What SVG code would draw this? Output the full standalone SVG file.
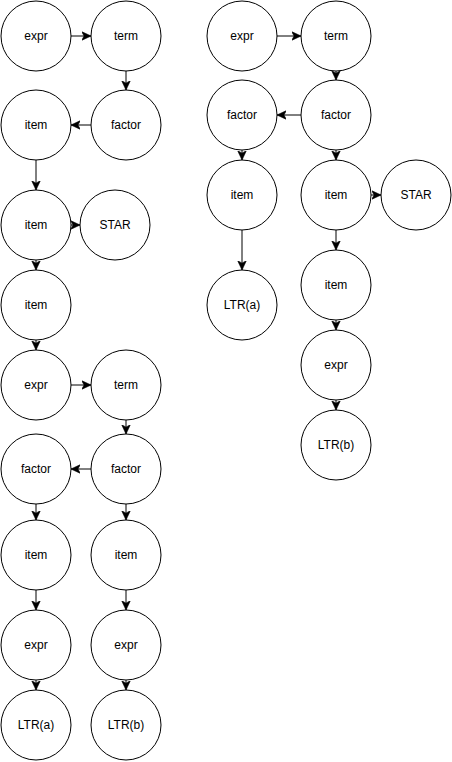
<svg xmlns="http://www.w3.org/2000/svg" width="452" height="762" viewBox="0 0 452 762">
<style>
.n circle{fill:#fff;stroke:#000;stroke-width:1}
.n text{font-family:"Liberation Sans",Arial,sans-serif;font-size:12px;fill:#000;text-anchor:middle;dominant-baseline:central}
.e line{stroke:#000;stroke-width:1;marker-end:url(#ah)}
</style>
<defs>
<marker id="ah" markerUnits="userSpaceOnUse" markerWidth="10" markerHeight="10" viewBox="0 0 8 8" refX="7.5" refY="4" orient="auto">
<path d="M0,0.5 L7.5,4 L0,7.5 L2,4 Z" fill="#000" stroke="#000" stroke-width="0.5"/>
</marker>
</defs>
<rect width="452" height="762" fill="#fff"/>
<g id="edges" class="e">
<line x1="71" y1="36" x2="91" y2="36"/>
<line x1="126" y1="71" x2="126" y2="90"/>
<line x1="91" y1="125" x2="71" y2="125"/>
<line x1="36" y1="160" x2="36" y2="190"/>
<line x1="71" y1="225" x2="80" y2="225"/>
<line x1="36" y1="260" x2="36" y2="270"/>
<line x1="36" y1="340" x2="36" y2="350"/>
<line x1="71" y1="385" x2="91" y2="385"/>
<line x1="126" y1="420" x2="126" y2="434"/>
<line x1="91" y1="469" x2="71" y2="469"/>
<line x1="36" y1="504" x2="36" y2="520"/>
<line x1="126" y1="504" x2="126" y2="520"/>
<line x1="36" y1="590" x2="36" y2="610"/>
<line x1="126" y1="590" x2="126" y2="610"/>
<line x1="36" y1="680" x2="36" y2="690"/>
<line x1="126" y1="680" x2="126" y2="690"/>
<line x1="277" y1="36" x2="301" y2="36"/>
<line x1="336" y1="71" x2="336" y2="80"/>
<line x1="301" y1="115" x2="277" y2="115"/>
<line x1="242" y1="150" x2="242" y2="160"/>
<line x1="336" y1="150" x2="336" y2="160"/>
<line x1="371" y1="195" x2="381" y2="195"/>
<line x1="242" y1="230" x2="242" y2="270"/>
<line x1="336" y1="230" x2="336" y2="250"/>
<line x1="336" y1="320" x2="336" y2="330"/>
<line x1="336" y1="400" x2="336" y2="410"/>
</g>
<g id="n1" class="n"><circle cx="36" cy="36" r="35"/><text x="36" y="36">expr</text></g>
<g id="n2" class="n"><circle cx="126" cy="36" r="35"/><text x="126" y="36">term</text></g>
<g id="n3" class="n"><circle cx="36" cy="125" r="35"/><text x="36" y="125">item</text></g>
<g id="n4" class="n"><circle cx="126" cy="125" r="35"/><text x="126" y="125">factor</text></g>
<g id="n5" class="n"><circle cx="36" cy="225" r="35"/><text x="36" y="225">item</text></g>
<g id="n6" class="n"><circle cx="115" cy="225" r="35"/><text x="115" y="225">STAR</text></g>
<g id="n7" class="n"><circle cx="36" cy="305" r="35"/><text x="36" y="305">item</text></g>
<g id="n8" class="n"><circle cx="36" cy="385" r="35"/><text x="36" y="385">expr</text></g>
<g id="n9" class="n"><circle cx="126" cy="385" r="35"/><text x="126" y="385">term</text></g>
<g id="n10" class="n"><circle cx="36" cy="469" r="35"/><text x="36" y="469">factor</text></g>
<g id="n11" class="n"><circle cx="126" cy="469" r="35"/><text x="126" y="469">factor</text></g>
<g id="n12" class="n"><circle cx="36" cy="555" r="35"/><text x="36" y="555">item</text></g>
<g id="n13" class="n"><circle cx="126" cy="555" r="35"/><text x="126" y="555">item</text></g>
<g id="n14" class="n"><circle cx="36" cy="645" r="35"/><text x="36" y="645">expr</text></g>
<g id="n15" class="n"><circle cx="126" cy="645" r="35"/><text x="126" y="645">expr</text></g>
<g id="n16" class="n"><circle cx="36" cy="725" r="35"/><text x="36" y="725">LTR(a)</text></g>
<g id="n17" class="n"><circle cx="126" cy="725" r="35"/><text x="126" y="725">LTR(b)</text></g>
<g id="n18" class="n"><circle cx="242" cy="36" r="35"/><text x="242" y="36">expr</text></g>
<g id="n19" class="n"><circle cx="336" cy="36" r="35"/><text x="336" y="36">term</text></g>
<g id="n20" class="n"><circle cx="242" cy="115" r="35"/><text x="242" y="115">factor</text></g>
<g id="n21" class="n"><circle cx="336" cy="115" r="35"/><text x="336" y="115">factor</text></g>
<g id="n22" class="n"><circle cx="242" cy="195" r="35"/><text x="242" y="195">item</text></g>
<g id="n23" class="n"><circle cx="336" cy="195" r="35"/><text x="336" y="195">item</text></g>
<g id="n24" class="n"><circle cx="416" cy="195" r="35"/><text x="416" y="195">STAR</text></g>
<g id="n25" class="n"><circle cx="242" cy="305" r="35"/><text x="242" y="305">LTR(a)</text></g>
<g id="n26" class="n"><circle cx="336" cy="285" r="35"/><text x="336" y="285">item</text></g>
<g id="n27" class="n"><circle cx="336" cy="365" r="35"/><text x="336" y="365">expr</text></g>
<g id="n28" class="n"><circle cx="336" cy="445" r="35"/><text x="336" y="445">LTR(b)</text></g>
</svg>
